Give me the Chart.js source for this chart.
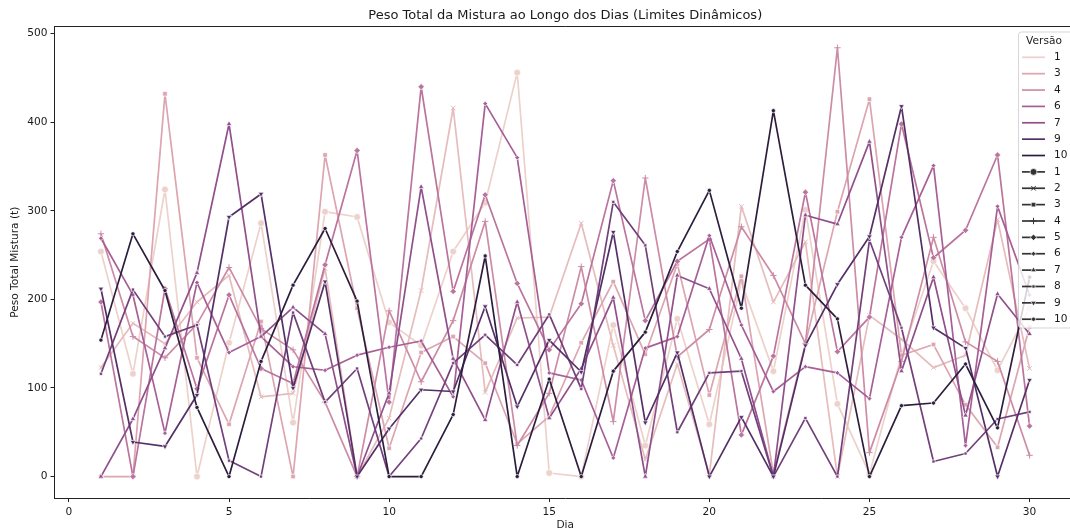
<!DOCTYPE html>
<html><head><meta charset="utf-8">
<style>
html,body{margin:0;padding:0;background:#fff;overflow:hidden;width:1070px;height:528px}
#wrap{position:absolute;left:0;top:0;width:1070px;height:528px;overflow:hidden}
#c{display:block;filter:blur(0.35px)}
</style>
<script src="https://cdn.jsdelivr.net/npm/chart.js@4/dist/chart.umd.js"></script>
</head><body><div id="wrap"><canvas id="c" width="1130" height="540" style="width:1130px;height:540px"></canvas></div>
<script>
const days=[1,2,3,4,5,6,7,8,9,10,11,12,13,14,15,16,17,18,19,20,21,22,23,24,25,26,27,28,29,30];
const v1=[254,116,324,0,151,286,61,299,293,174,148,254,309,456,4,0,171,35,178,59,220,119,301,82,3,137,243,190,120,190];
const v2=[123,173,150,197,227,90,94,235,0,66,210,416,95,179,180,286,148,19,127,2,305,197,265,0,182,155,123,137,290,122];
const v3=[0,0,432,134,59,175,0,363,190,32,140,158,128,37,68,151,220,138,240,92,226,3,150,299,426,137,149,81,33,169];
const v4=[274,158,134,172,236,167,143,84,0,187,107,176,288,35,94,237,62,337,135,166,282,227,150,484,27,130,270,152,130,24];
const v5=[197,0,212,99,205,122,105,239,368,84,440,209,318,218,143,195,334,176,243,268,47,136,321,141,180,398,247,278,363,57];
const v6=[269,205,49,219,140,158,124,120,137,146,153,90,421,360,117,109,21,145,158,272,171,96,124,117,88,270,351,35,305,205];
const v7=[0,65,145,230,398,158,191,161,0,94,327,133,64,197,66,122,202,0,227,212,133,0,295,285,378,119,225,69,206,161];
const v8=[116,211,158,171,18,0,185,84,122,0,43,128,160,126,183,99,310,261,50,117,119,0,66,0,267,168,17,26,65,73];
const v9=[212,39,34,92,293,319,100,220,0,54,98,96,192,79,154,118,276,61,140,0,67,0,148,217,271,418,168,145,0,109];
const v10=[154,274,210,78,0,130,216,280,198,0,0,70,249,0,110,0,119,163,254,323,190,413,216,178,0,80,83,127,55,225];
const versionNames=['1','2','3','4','5','6','7','8','9','10'];
const seriesValues=[v1,v2,v3,v4,v5,v6,v7,v8,v9,v10];
const xTicks=[0,5,10,15,20,25,30];
const yTicks=[0,100,200,300,400,500];
const hueLegend=['1','3','4','6','7','9','10'];
const colors=['#edd1cb','#e6bcbc','#dca5b0','#cd8ca6','#bb749d','#a75f96','#90508c','#72407b','#553067','#2d1e3e'];
const hueColors=['#edd1cb','#dca5b0','#cd8ca6','#a75f96','#90508c','#553067','#2d1e3e'];
const markers=[
 {pointStyle:'circle',radius:3.4,rotation:0},
 {pointStyle:'crossRot',radius:3.2,rotation:0},
 {pointStyle:'rect',radius:3.2,rotation:0},
 {pointStyle:'cross',radius:3.2,rotation:0},
 {pointStyle:'rectRot',radius:3.2,rotation:0},
 {pointStyle:'rectRot',radius:2.4,rotation:0},
 {pointStyle:'triangle',radius:3.2,rotation:0},
 {pointStyle:'rect',radius:2.2,rotation:0},
 {pointStyle:'triangle',radius:3.2,rotation:180},
 {pointStyle:'circle',radius:2.1,rotation:0}
];
const font='"DejaVu Sans"';
const TEXT='#1a1a1a';
const isLine=s=>s==='cross'||s==='crossRot';

const datasets=versionNames.map((name,i)=>({
  label:name,
  data:days.map((d,k)=>({x:d,y:seriesValues[i][k]})),
  borderColor:colors[i],
  backgroundColor:colors[i],
  borderWidth:1.7,
  borderJoinStyle:'round',
  borderCapStyle:'round',
  tension:0,
  fill:false,
  order:versionNames.length-i,
  pointStyle:markers[i].pointStyle,
  pointRadius:markers[i].radius,
  pointRotation:markers[i].rotation,
  pointBackgroundColor:colors[i],
  pointBorderColor:isLine(markers[i].pointStyle)?colors[i]:'#ffffff',
  pointBorderWidth:isLine(markers[i].pointStyle)?1:0.7
}));

const frame={id:'frame',afterDatasetsDraw(chart){
  const {ctx,chartArea:a}=chart;
  ctx.save();ctx.strokeStyle='#222';ctx.lineWidth=1;
  ctx.beginPath();ctx.moveTo(a.left,a.top);ctx.lineTo(a.right,a.top);ctx.lineTo(a.right,a.bottom);ctx.stroke();
  ctx.restore();
}};
const legendBox={id:'legendBox',afterDraw(chart){
  const ctx=chart.ctx;
  const L=1018.5,T=32,W=56,H=296,x0=1022,x1=1045,tx=1054;
  ctx.save();
  ctx.beginPath();ctx.roundRect(L,T,W,H,3);
  ctx.fillStyle='rgba(255,255,255,0.8)';ctx.fill();
  ctx.strokeStyle='rgba(204,204,204,0.8)';ctx.lineWidth=1;ctx.stroke();
  ctx.font='10.6px '+font;ctx.fillStyle=TEXT;ctx.textBaseline='middle';
  ctx.textAlign='center';ctx.fillText('Versão',1044,41);
  ctx.textAlign='left';
  let y=57.3;const step=16.37;
  hueLegend.forEach((n,i)=>{
    ctx.strokeStyle=hueColors[i];ctx.lineWidth=1.7;
    ctx.beginPath();ctx.moveTo(x0,y);ctx.lineTo(x1,y);ctx.stroke();
    ctx.fillStyle=TEXT;ctx.fillText(n,tx,y);y+=step;
  });
  versionNames.forEach((n,i)=>{
    ctx.strokeStyle='#333';ctx.lineWidth=1.7;
    ctx.beginPath();ctx.moveTo(x0,y);ctx.lineTo(x1,y);ctx.stroke();
    const m=markers[i],ln=isLine(m.pointStyle);
    ctx.fillStyle='#333';ctx.strokeStyle=ln?'#333':'#fff';ctx.lineWidth=ln?1:0.7;
    Chart.helpers.drawPoint(ctx,{pointStyle:m.pointStyle,radius:m.radius,rotation:m.rotation,borderWidth:ctx.lineWidth},(x0+x1)/2,y);
    ctx.fillStyle=TEXT;ctx.fillText(n,tx,y);y+=step;
  });
  ctx.restore();
}};

new Chart(document.getElementById('c'),{
  type:'line',
  data:{datasets},
  plugins:[frame,legendBox],
  options:{
    responsive:false,animation:false,
    layout:{padding:{left:0,right:54,top:0,bottom:0}},
    plugins:{
      legend:{display:false},tooltip:{enabled:false},
      title:{display:true,fullSize:false,text:'Peso Total da Mistura ao Longo dos Dias (Limites Dinâmicos)',
        color:TEXT,font:{family:font,size:13,weight:'normal'},padding:{top:8,bottom:2.9}}
    },
    scales:{
      x:{type:'linear',min:-0.45,max:31.45,
        afterBuildTicks:s=>{s.ticks=xTicks.map(v=>({value:v}));},
        afterFit:s=>{s.height=42;},
        grid:{drawOnChartArea:false,drawTicks:true,tickLength:4,tickColor:'#222'},
        border:{color:'#222',width:1},
        ticks:{color:TEXT,font:{family:font,size:10.6},padding:4,maxRotation:0,autoSkip:false},
        title:{display:true,text:'Dia',color:TEXT,font:{family:font,size:10.6},padding:{top:0,bottom:8.7}}
      },
      y:{type:'linear',min:-24.2,max:508,
        afterBuildTicks:s=>{s.ticks=yTicks.map(v=>({value:v}));},
        afterFit:s=>{s.width=54.5;},
        grid:{drawOnChartArea:false,drawTicks:true,tickLength:4,tickColor:'#222'},
        border:{color:'#222',width:1},
        ticks:{color:TEXT,font:{family:font,size:10.6},padding:3},
        title:{display:true,text:'Peso Total Mistura (t)',color:TEXT,font:{family:font,size:10.6},padding:{top:8.7,bottom:0}}
      }
    }
  }
});
</script></body></html>
